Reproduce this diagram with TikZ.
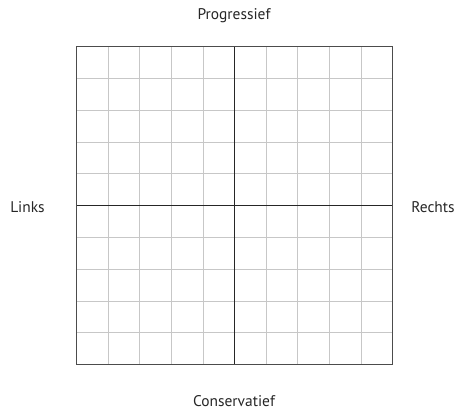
\documentclass[tikz,border=0pt]{standalone}
\usepackage{fontspec}
\setmainfont{PT Sans}
\begin{document}
\begin{tikzpicture}[x=1bp,y=-1bp,
  lbl/.style={font=\fontsize{15.5}{17}\selectfont, text=black!85, inner sep=0pt},
  gridline/.style={draw=black!22, line width=0.8bp},
  axis/.style={draw=black!85, line width=1bp},
  frame/.style={draw=black!70, line width=1.4bp}]
\useasboundingbox (0,0) rectangle (458,412);
\coordinate (tl) at (76.5,46.5);
\coordinate (br) at (392.5,364.5);
\foreach \i in {1,...,9} {
  \draw[gridline] ({76.5+\i*31.6},46.5) -- ({76.5+\i*31.6},364.5);
  \draw[gridline] (76.5,{46.5+\i*31.8}) -- (392.5,{46.5+\i*31.8});
}
\draw[axis] (234.5,46.5) -- (234.5,364.5);
\draw[axis] (76.5,205.5) -- (392.5,205.5);
\draw[frame] (tl) rectangle (br);
\node[lbl] (top) at (234,16) {Progressief};
\node[lbl] (left) at (27.5,207) {Links};
\node[lbl] (right) at (433,207) {Rechts};
\node[lbl] (bottom) at (234,401) {Conservatief};
\end{tikzpicture}
\end{document}
